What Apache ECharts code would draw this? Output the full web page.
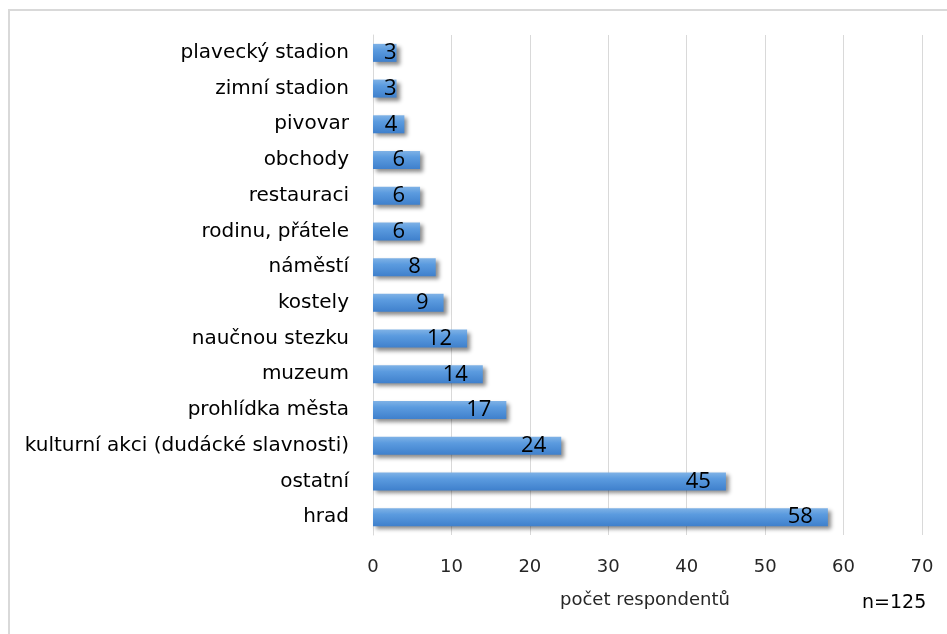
<!DOCTYPE html>
<html>
<head>
<meta charset="utf-8">
<script src="https://cdn.jsdelivr.net/npm/echarts@6/dist/echarts.min.js"></script>
<style>
  html, body { margin: 0; padding: 0; background: #fff; }
  #chart { width: 947px; height: 634px; }
</style>
</head>
<body>
<div id="chart"></div>
<script>
// Places visited by respondents (count of respondents)
const categories = [
  'plavecký stadion', 'zimní stadion', 'pivovar', 'obchody', 'restauraci',
  'rodinu, přátele', 'náměstí', 'kostely', 'naučnou stezku', 'muzeum',
  'prohlídka města', 'kulturní akci (dudácké slavnosti)', 'ostatní', 'hrad'
];
const counts = [3, 3, 4, 6, 6, 6, 8, 9, 12, 14, 17, 24, 45, 58];
const xTicks = { min: 0, max: 70, interval: 10 };
const axisTitle = 'počet respondentů';
const sampleNote = 'n=125';

const FONT = '"DejaVu Sans", "Open Sans", sans-serif';
const LABEL_FONT = '"Open Sans", "DejaVu Sans", sans-serif';

const chart = echarts.init(document.getElementById('chart'), null, { renderer: 'canvas' });

// short bars keep their label pushed towards the bar end
const barData = counts.map(v => ({
  value: v,
  label: { distance: v <= 3 ? 0 : (v <= 4 ? 7 : 15) }
}));

chart.setOption({
  animation: false,
  backgroundColor: '#ffffff',
  grid: { left: 373, right: 25, top: 35, bottom: 99, containLabel: false },
  xAxis: {
    type: 'value',
    min: xTicks.min,
    max: xTicks.max,
    interval: xTicks.interval,
    axisLine: { show: false },
    axisTick: { show: false },
    splitLine: { show: true, lineStyle: { color: '#d9d9d9', width: 1 } },
    axisLabel: { color: '#262626', fontFamily: FONT, fontSize: 18, margin: 23 }
  },
  yAxis: {
    type: 'category',
    inverse: true,
    data: categories,
    axisLine: { show: true, lineStyle: { color: '#d9d9d9', width: 1 } },
    axisTick: { show: false },
    axisLabel: { color: '#000000', fontFamily: FONT, fontSize: 20, margin: 24 }
  },
  series: [{
    type: 'bar',
    data: barData,
    barWidth: 18,
    itemStyle: {
      color: new echarts.graphic.LinearGradient(0, 0, 0, 1, [
        { offset: 0, color: '#7fb2e6' },
        { offset: 0.35, color: '#5b9bdf' },
        { offset: 1, color: '#3f80cc' }
      ]),
      shadowColor: 'rgba(0,0,0,0.45)',
      shadowBlur: 4,
      shadowOffsetX: 3,
      shadowOffsetY: 3
    },
    label: {
      show: true,
      position: 'insideRight',
      color: '#000000',
      fontFamily: LABEL_FONT,
      fontSize: 22
    }
  }],
  graphic: [
    // chart area frame
    { type: 'polyline', shape: { points: [[9, 640], [9, 10], [950, 10]] },
      style: { stroke: '#d9d9d9', lineWidth: 2, fill: null }, silent: true },
    { type: 'text', left: 560, top: 591,
      style: { text: axisTitle, fill: '#262626', fontFamily: FONT, fontSize: 18 } },
    { type: 'text', left: 862, top: 594,
      style: { text: sampleNote, fill: '#000000', fontFamily: FONT, fontSize: 19 } }
  ]
});
</script>
</body>
</html>
